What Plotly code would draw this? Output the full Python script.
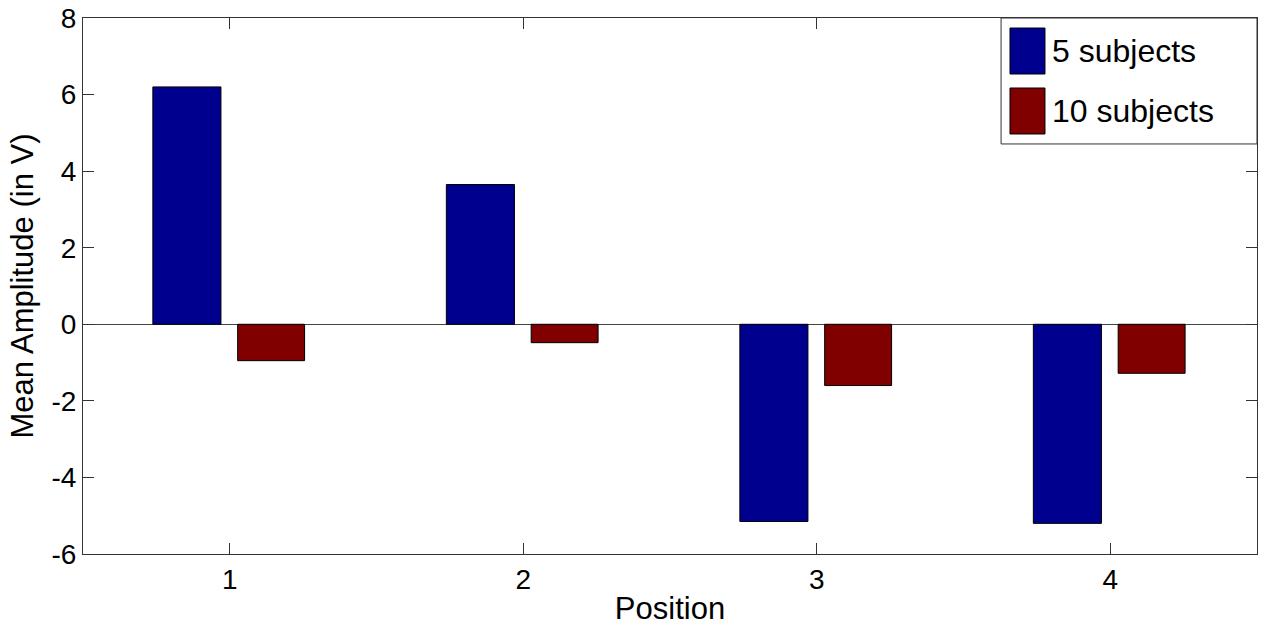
import plotly.graph_objects as go

positions = [1, 2, 3, 4]
five_subjects = [6.2, 3.65, -5.15, -5.2]
ten_subjects = [-0.95, -0.48, -1.6, -1.28]
series_names = ["5 subjects", "10 subjects"]
series_colors = ["#00008F", "#800000"]
y_ticks = [-6, -4, -2, 0, 2, 4, 6, 8]
x_ticks = [1, 2, 3, 4]

font_family = "Liberation Sans, Arial, Helvetica, sans-serif"

fig = go.Figure()
fig.add_trace(go.Bar(
    x=positions, y=five_subjects, name=series_names[0],
    width=0.232, offset=-0.262,
    marker=dict(color=series_colors[0], line=dict(color="black", width=1)),
    showlegend=False,
))
fig.add_trace(go.Bar(
    x=positions, y=ten_subjects, name=series_names[1],
    width=0.228, offset=0.027,
    marker=dict(color=series_colors[1], line=dict(color="black", width=1)),
    showlegend=False,
))

axis_common = dict(
    showline=True, linecolor="#333", linewidth=1, mirror="ticks",
    ticks="inside", ticklen=11, tickcolor="#333", tickwidth=1,
    showgrid=False, automargin=False,
    tickfont=dict(size=28, color="black", family=font_family),
)

# Legend drawn as a boxed key in the upper-right corner of the axes
shapes = [
    dict(type="rect", xref="paper", yref="paper", x0=0.782, x1=1.0, y0=0.765, y1=1.0,
         line=dict(color="#333", width=1), fillcolor="white", layer="above"),
    dict(type="rect", xref="paper", yref="paper", x0=0.7896, x1=0.8194, y0=0.8955, y1=0.9813,
         line=dict(color="black", width=1), fillcolor=series_colors[0], layer="above"),
    dict(type="rect", xref="paper", yref="paper", x0=0.7896, x1=0.8194, y0=0.7836, y1=0.8694,
         line=dict(color="black", width=1), fillcolor=series_colors[1], layer="above"),
]
annotations = [
    dict(xref="paper", yref="paper", x=0.8237, y=0.9384, xanchor="left", yanchor="middle",
         text=series_names[0], showarrow=False, font=dict(size=32, color="black")),
    dict(xref="paper", yref="paper", x=0.8237, y=0.8265, xanchor="left", yanchor="middle",
         text=series_names[1], showarrow=False, font=dict(size=32, color="black")),
]

fig.update_layout(
    width=1262, height=626,
    margin=dict(l=83, r=5, t=18, b=72),
    paper_bgcolor="white", plot_bgcolor="white",
    barmode="overlay",
    font=dict(family=font_family, color="black"),
    xaxis=dict(range=[0.5, 4.5], tickvals=x_ticks, ticktext=[str(v) for v in x_ticks],
               title=dict(text="Position", font=dict(size=31), standoff=5),
               zeroline=False, **axis_common),
    yaxis=dict(range=[-6, 8], tickvals=y_ticks, ticktext=[str(v) for v in y_ticks],
               title=dict(text="Mean Amplitude (in V)", font=dict(size=31), standoff=8),
               zeroline=True, zerolinecolor="#444", zerolinewidth=1, **axis_common),
    shapes=shapes,
    annotations=annotations,
    showlegend=False,
)

fig.write_html(
    "out.html",
    config={"displayModeBar": False},
    post_script="document.body.style.margin='0';document.body.style.overflow='hidden';",
)
